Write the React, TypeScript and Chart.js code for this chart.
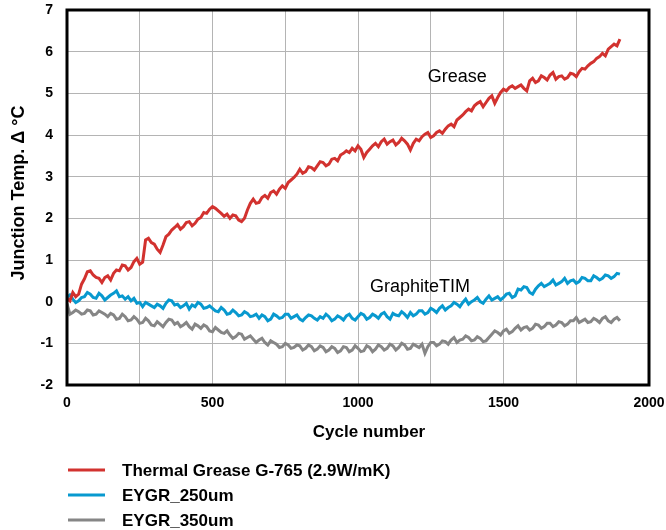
import React, { useEffect, useRef } from "react";
import { Chart, registerables } from "chart.js";

Chart.register(...registerables);

const cycles = [
  0, 10, 20, 30, 40, 50, 60, 70, 80, 90,
  100, 110, 120, 130, 140, 150, 160, 170, 180, 190,
  200, 210, 220, 230, 240, 250, 260, 270, 280, 290,
  300, 310, 320, 330, 340, 350, 360, 370, 380, 390,
  400, 410, 420, 430, 440, 450, 460, 470, 480, 490,
  500, 510, 520, 530, 540, 550, 560, 570, 580, 590,
  600, 610, 620, 630, 640, 650, 660, 670, 680, 690,
  700, 710, 720, 730, 740, 750, 760, 770, 780, 790,
  800, 810, 820, 830, 840, 850, 860, 870, 880, 890,
  900, 910, 920, 930, 940, 950, 960, 970, 980, 990,
  1000, 1010, 1020, 1030, 1040, 1050, 1060, 1070, 1080, 1090,
  1100, 1110, 1120, 1130, 1140, 1150, 1160, 1170, 1180, 1190,
  1200, 1210, 1220, 1230, 1240, 1250, 1260, 1270, 1280, 1290,
  1300, 1310, 1320, 1330, 1340, 1350, 1360, 1370, 1380, 1390,
  1400, 1410, 1420, 1430, 1440, 1450, 1460, 1470, 1480, 1490,
  1500, 1510, 1520, 1530, 1540, 1550, 1560, 1570, 1580, 1590,
  1600, 1610, 1620, 1630, 1640, 1650, 1660, 1670, 1680, 1690,
  1700, 1710, 1720, 1730, 1740, 1750, 1760, 1770, 1780, 1790,
  1800, 1810, 1820, 1830, 1840, 1850, 1860, 1870, 1880, 1890,
  1900,
];

const greaseValues = [
  0.08, 0.02, 0.22, 0.12, 0.18, 0.42, 0.55, 0.72, 0.74, 0.64,
  0.58, 0.56, 0.46, 0.58, 0.62, 0.52, 0.68, 0.76, 0.74, 0.88,
  0.86, 0.76, 0.82, 0.96, 1.04, 0.9, 0.95, 1.48, 1.52, 1.42,
  1.38, 1.26, 1.18, 1.36, 1.56, 1.62, 1.72, 1.78, 1.85, 1.74,
  1.8, 1.9, 1.92, 1.82, 1.88, 1.98, 2.02, 2.14, 2.12, 2.22,
  2.28, 2.24, 2.18, 2.12, 2.05, 2.1, 2.0, 2.08, 2.06, 1.96,
  1.92, 2.0, 2.2, 2.36, 2.46, 2.36, 2.38, 2.5, 2.55, 2.48,
  2.62, 2.66, 2.58, 2.7, 2.78, 2.72, 2.86, 2.92, 2.98, 3.06,
  3.18, 3.08, 3.12, 3.24, 3.22, 3.16, 3.26, 3.36, 3.34, 3.26,
  3.3, 3.42, 3.44, 3.38, 3.52, 3.56, 3.62, 3.58, 3.68, 3.62,
  3.74, 3.66, 3.46, 3.58, 3.66, 3.74, 3.8, 3.72, 3.84, 3.9,
  3.78, 3.84, 3.88, 3.76, 3.82, 3.92, 3.86, 3.78, 3.64, 3.8,
  3.9, 3.86, 3.96, 4.02, 4.06, 3.94, 3.98, 4.06, 4.1, 4.04,
  4.14, 4.22, 4.26, 4.2, 4.36, 4.42, 4.48, 4.56, 4.62, 4.58,
  4.7, 4.76, 4.8, 4.68, 4.78, 4.88, 4.94, 4.76, 4.9, 5.02,
  5.1, 5.06, 5.14, 5.18, 5.12, 5.16, 5.2, 5.12, 5.06, 5.3,
  5.36, 5.26, 5.3, 5.42, 5.38, 5.32, 5.44, 5.5, 5.34, 5.4,
  5.42, 5.34, 5.38, 5.48, 5.46, 5.4, 5.52, 5.6, 5.58, 5.66,
  5.72, 5.76, 5.84, 5.88, 5.96, 5.9, 6.06, 6.12, 6.18, 6.14,
  6.3,
];

const eygr250Values = [
  0.1, 0.16, 0.06, -0.02, 0.02, 0.1, 0.12, 0.22, 0.18, 0.1,
  0.08, 0.2, 0.14, 0.04, 0.1, 0.16, 0.2, 0.26, 0.12, 0.14,
  0.06, 0.12, 0.02, 0.08, -0.04, -0.02, -0.12, -0.02, -0.06, -0.1,
  -0.14, -0.06, -0.1, -0.16, -0.04, 0.04, 0.02, -0.08, -0.06, -0.14,
  -0.1, -0.04, -0.18, -0.08, -0.12, -0.02, -0.06, -0.16, -0.14, -0.1,
  -0.16, -0.22, -0.24, -0.14, -0.2, -0.3, -0.28, -0.2, -0.26, -0.34,
  -0.32, -0.24, -0.28, -0.36, -0.34, -0.3, -0.4, -0.32, -0.36, -0.46,
  -0.42, -0.3, -0.34, -0.4, -0.38, -0.3, -0.3, -0.4, -0.36, -0.32,
  -0.42, -0.46, -0.38, -0.32, -0.34, -0.4, -0.44, -0.36, -0.4, -0.3,
  -0.36, -0.46, -0.42, -0.34, -0.38, -0.44, -0.34, -0.3, -0.4, -0.44,
  -0.36, -0.28, -0.32, -0.42, -0.38, -0.3, -0.34, -0.4, -0.3, -0.26,
  -0.36, -0.42, -0.28, -0.32, -0.34, -0.24, -0.3, -0.38, -0.26, -0.34,
  -0.3, -0.22, -0.22, -0.3, -0.26, -0.16, -0.2, -0.26, -0.16, -0.1,
  -0.2, -0.14, -0.1, -0.02, -0.06, -0.12, -0.02, 0.06, -0.06, 0.0,
  0.04, 0.1, 0.0, -0.04, 0.06, 0.14, 0.04, 0.08, 0.12, 0.04,
  0.1, 0.18, 0.2, 0.1, 0.14, 0.3, 0.28, 0.36, 0.34, 0.22,
  0.18, 0.3, 0.38, 0.44, 0.36, 0.4, 0.44, 0.52, 0.4, 0.44,
  0.48, 0.56, 0.44, 0.5, 0.52, 0.44, 0.48, 0.58, 0.56, 0.5,
  0.5, 0.62, 0.58, 0.52, 0.56, 0.64, 0.62, 0.56, 0.6, 0.68,
  0.66,
];

const eygr350Values = [
  -0.05, -0.3, -0.26, -0.2, -0.24, -0.3, -0.28, -0.2, -0.22, -0.32,
  -0.3, -0.22, -0.26, -0.3, -0.36, -0.28, -0.32, -0.42, -0.4, -0.3,
  -0.36, -0.46, -0.44, -0.36, -0.42, -0.52, -0.5, -0.4, -0.46, -0.56,
  -0.58, -0.48, -0.54, -0.6, -0.5, -0.42, -0.44, -0.54, -0.5, -0.6,
  -0.56, -0.5, -0.6, -0.66, -0.54, -0.58, -0.64, -0.56, -0.6, -0.7,
  -0.72, -0.62, -0.68, -0.74, -0.76, -0.7, -0.8, -0.88, -0.84, -0.76,
  -0.78, -0.9, -0.86, -0.82, -0.9, -0.98, -0.92, -0.88, -0.98, -1.04,
  -0.94, -0.98, -1.02, -1.1, -1.08, -1.0, -1.04, -1.12, -1.1, -1.04,
  -1.06, -1.16, -1.12, -1.04, -1.08, -1.18, -1.14, -1.06, -1.1, -1.2,
  -1.16, -1.08, -1.12, -1.22, -1.18, -1.08, -1.1, -1.2, -1.16, -1.06,
  -1.12, -1.2, -1.18, -1.06, -1.1, -1.2, -1.14, -1.04, -1.08, -1.16,
  -1.12, -1.02, -1.06, -1.16, -1.1, -1.0, -1.04, -1.14, -1.12, -1.02,
  -1.06, -1.1, -1.02, -1.24, -1.08, -0.98, -0.98, -1.06, -1.02, -0.94,
  -0.96, -1.02, -0.92, -0.86, -0.98, -0.92, -0.9, -0.82, -0.86, -0.94,
  -0.92, -0.84, -0.88, -0.96, -0.94, -0.86, -0.78, -0.7, -0.74, -0.8,
  -0.7, -0.66, -0.76, -0.72, -0.64, -0.58, -0.68, -0.62, -0.6, -0.68,
  -0.64, -0.54, -0.56, -0.64, -0.6, -0.52, -0.52, -0.6, -0.56, -0.48,
  -0.5, -0.58, -0.54, -0.46, -0.46, -0.38, -0.5, -0.46, -0.42, -0.5,
  -0.48, -0.4, -0.44, -0.5, -0.4, -0.36, -0.46, -0.5, -0.42, -0.38,
  -0.46,
];

const xTickLabels = [0, 500, 1000, 1500, 2000];
const seriesNames = ["Thermal Grease G-765 (2.9W/mK)", "EYGR_250um", "EYGR_350um"];
const seriesColors = ["#d2322f", "#0899cf", "#868686"];
const annotations = [
  { text: "Grease", x: 1240, y: 5.4 },
  { text: "GraphiteTIM", x: 1041, y: 0.35 },
];
const xTitle = "Cycle number";
const yTitle = "Junction Temp. Δ °C";

const FONT = '"Liberation Sans", Arial, Helvetica, sans-serif';

const overlayPlugin = {
  id: "overlay",
  afterDraw(chart: any) {
    const { ctx, chartArea: a, scales } = chart;
    ctx.save();
    // frame
    ctx.strokeStyle = "#000";
    ctx.lineWidth = 3;
    ctx.strokeRect(a.left, a.top, a.right - a.left, a.bottom - a.top);

    // annotations
    ctx.fillStyle = "#000";
    ctx.font = `18px ${FONT}`;
    ctx.textAlign = "left";
    ctx.textBaseline = "middle";
    annotations.forEach((an) => {
      ctx.fillText(an.text, scales.x.getPixelForValue(an.x), scales.y.getPixelForValue(an.y));
    });

    // axis titles
    ctx.font = `bold 17px ${FONT}`;
    ctx.textAlign = "center";
    ctx.fillText(xTitle, 369, 432);
    ctx.save();
    ctx.translate(19, 193);
    ctx.rotate(-Math.PI / 2);
    ctx.font = `bold 18px ${FONT}`;
    ctx.fillText(yTitle, 0, 0);
    ctx.restore();

    // legend
    ctx.font = `bold 17px ${FONT}`;
    ctx.textAlign = "left";
    seriesNames.forEach((name, i) => {
      const y = 470 + i * 25;
      ctx.strokeStyle = seriesColors[i];
      ctx.lineWidth = 3;
      ctx.beginPath();
      ctx.moveTo(68, y);
      ctx.lineTo(105, y);
      ctx.stroke();
      ctx.fillStyle = "#000";
      ctx.fillText(name, 122, y + 1);
    });
    ctx.restore();
  },
};

export default function App() {
  const canvasRef = useRef<HTMLCanvasElement | null>(null);

  useEffect(() => {
    document.body.style.margin = "0";
    const canvas = canvasRef.current;
    if (!canvas) return;
    const seriesValues = [greaseValues, eygr250Values, eygr350Values];
    const chart = new Chart(canvas, {
      type: "line",
      data: {
        datasets: seriesValues.map((vals, i) => ({
          label: seriesNames[i],
          data: cycles.map((c, j) => ({ x: c, y: vals[j] })),
          borderColor: seriesColors[i],
          backgroundColor: seriesColors[i],
          borderWidth: 3,
          pointRadius: 0,
          tension: 0,
          fill: false,
        })),
      },
      options: {
        animation: false,
        responsive: false,
        devicePixelRatio: 1,
        layout: { padding: { top: 10, right: 17, left: 0, bottom: 0 } },
        plugins: { legend: { display: false }, tooltip: { enabled: false } },
        scales: {
          x: {
            type: "linear",
            min: 0,
            max: 2000,
            afterFit: (s: any) => {
              s.height = 145;
              s.paddingLeft = 0;
              s.paddingRight = 0;
            },
            afterBuildTicks: (s: any) => {
              const t = [];
              for (let v = 0; v <= 2000; v += 250) t.push({ value: v });
              s.ticks = t;
            },
            border: { display: false },
            grid: { color: "#b4b4b4", lineWidth: 1, drawTicks: false },
            ticks: {
              padding: 10,
              color: "#000",
              font: { family: FONT, size: 14, weight: "bold" },
              maxRotation: 0,
              autoSkip: false,
              callback: (v: any) => (xTickLabels.includes(Number(v)) ? String(v) : ""),
            },
          },
          y: {
            type: "linear",
            min: -2,
            max: 7,
            afterFit: (s: any) => {
              s.width = 67;
              s.paddingTop = 0;
              s.paddingBottom = 0;
            },
            border: { display: false },
            grid: { color: "#b4b4b4", lineWidth: 1, drawTicks: false },
            ticks: {
              stepSize: 1,
              padding: 14,
              color: "#000",
              font: { family: FONT, size: 14, weight: "bold" },
            },
          },
        },
      },
      plugins: [overlayPlugin],
    });
    return () => chart.destroy();
  }, []);

  return <canvas ref={canvasRef} width={666} height={530} style={{ display: "block" }} />;
}
